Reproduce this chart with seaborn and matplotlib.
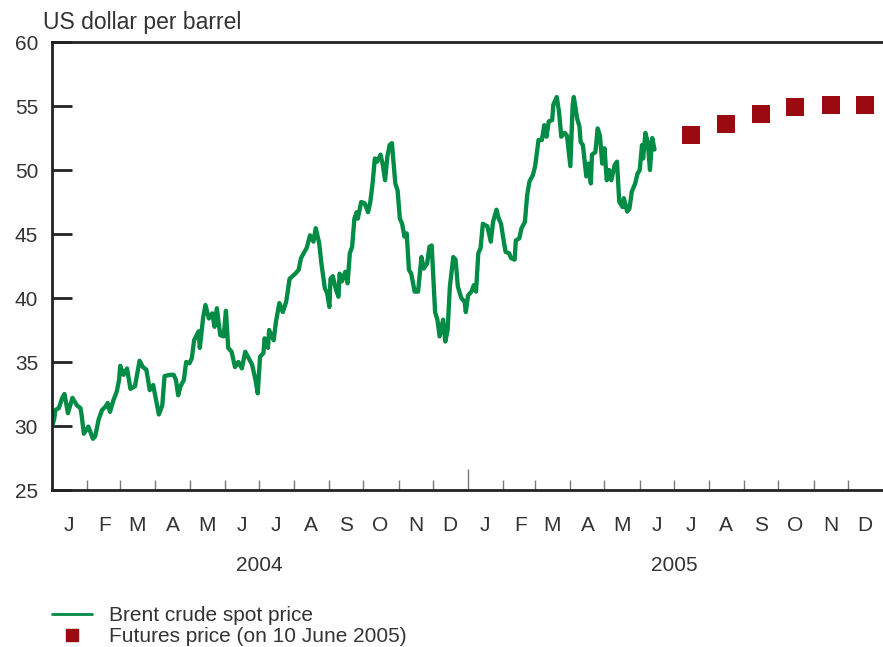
import numpy as np
import pandas as pd
import seaborn as sns
import matplotlib.pyplot as plt
import matplotlib.dates as mdates
from matplotlib.lines import Line2D

# Brent spot price: days since 1 Jan 2004 and US$ per barrel
spot_days = [0, 2, 3, 6, 9, 11, 14, 18, 22, 25, 26, 28, 32, 36, 38, 41, 44, 47, 49, 51,
             54, 57, 59, 60, 63, 66, 69, 73, 77, 80, 83, 86, 89, 94, 97, 99, 104, 107, 109, 111,
             113, 116, 118, 121, 123, 125, 129, 130, 133, 135, 138, 141, 143, 145, 148, 151, 153, 155, 158, 161,
             164, 167, 170, 173, 176, 179, 181, 183, 186, 187, 190, 191, 195, 197, 200, 203, 206, 209, 214, 217,
             219, 222, 224, 227, 230, 232, 235, 237, 240, 242, 244, 245, 247, 250, 252, 253, 255, 258, 260, 262,
             264, 266, 268, 269, 272, 275, 278, 280, 282, 284, 286, 289, 291, 293, 295, 297, 299, 302, 304, 306,
             308, 310, 312, 314, 316, 319, 322, 325, 327, 330, 332, 334, 337, 339, 341, 344, 346, 348, 350, 353,
             355, 357, 360, 363, 364, 366, 369, 371, 373, 375, 377, 379, 383, 386, 388, 391, 393, 395, 397, 399,
             402, 404, 407, 408, 411, 413, 416, 418, 420, 423, 425, 428, 431, 433, 435, 437, 440, 441, 444, 446,
             448, 451, 453, 456, 458, 459, 462, 464, 465, 467, 470, 472, 474, 475, 478, 480, 482, 484, 486, 488,
             490, 492, 495, 497, 499, 502, 503, 506, 508, 510, 513, 515, 517, 519, 520, 522, 524, 526, 528, 530]
spot_price = [29.9, 30.6, 31.25, 31.4, 32.2, 32.5, 31.0, 32.2, 31.6, 31.4, 30.9, 29.4, 29.95, 29.0, 29.2, 30.5, 31.25, 31.5, 31.8, 31.1,
              32.0, 32.7, 33.6, 34.7, 34.0, 34.5, 32.9, 33.1, 35.1, 34.6, 34.4, 32.8, 33.2, 30.9, 31.6, 33.9, 34.0, 34.0, 33.6, 32.4,
              33.1, 33.6, 35.0, 34.9, 35.3, 36.7, 37.4, 36.1, 38.5, 39.45, 38.4, 38.8, 37.75, 39.2, 37.1, 37.0, 39.0, 36.1, 35.8, 34.6,
              35.0, 34.5, 35.8, 35.3, 34.8, 33.6, 32.55, 35.4, 35.7, 36.85, 36.1, 37.5, 36.7, 38.15, 39.6, 38.9, 39.7, 41.5, 41.9, 42.2,
              43.1, 43.6, 43.9, 44.9, 44.4, 45.45, 44.3, 42.7, 40.75, 40.4, 39.3, 41.5, 41.7, 40.6, 40.1, 41.9, 41.3, 42.05, 41.15, 43.5,
              44.0, 46.2, 46.7, 46.2, 47.5, 47.4, 46.7, 47.5, 48.95, 50.9, 50.65, 51.2, 50.4, 49.2, 51.05, 51.95, 52.1, 48.95, 48.4, 46.2,
              45.8, 44.8, 45.05, 42.2, 41.9, 40.5, 40.5, 43.2, 42.3, 42.7, 44.0, 44.1, 38.9, 38.3, 37.0, 38.3, 36.6, 37.5, 40.9, 43.2,
              43.0, 40.9, 40.0, 39.7, 38.9, 40.2, 40.5, 41.0, 40.5, 43.5, 43.9, 45.8, 45.6, 44.4, 45.95, 46.9, 46.2, 45.8, 44.65, 43.6,
              43.5, 43.1, 43.0, 44.5, 44.65, 45.45, 45.95, 48.05, 49.1, 49.6, 50.3, 52.35, 52.35, 53.5, 52.6, 53.8, 53.9, 55.1, 55.7, 54.55,
              52.6, 52.9, 52.7, 50.3, 55.1, 55.7, 54.0, 53.4, 52.2, 51.95, 49.5, 50.5, 48.95, 51.2, 51.4, 53.25, 52.7, 50.5, 51.7, 49.2,
              50.0, 49.2, 50.4, 50.65, 47.5, 47.1, 47.8, 46.75, 47.0, 48.3, 48.95, 49.7, 50.0, 51.95, 50.9, 52.9, 52.2, 50.0, 52.5, 51.6]

# futures curve on 10 June 2005
futures_dates = ['2005-07-16', '2005-08-16', '2005-09-16', '2005-10-16', '2005-11-16', '2005-12-16']
futures_price = [52.7, 53.6, 54.4, 54.9, 55.1, 55.1]

month_labels = ['J', 'F', 'M', 'A', 'M', 'J', 'J', 'A', 'S', 'O', 'N', 'D'] * 2
year_labels = ['2004', '2005']

green = '#008C45'
red = '#9B0A10'
text_col = '#333333'
fsize = 15

sns.set_style('white')
plt.rcParams['font.family'] = ['Liberation Sans', 'DejaVu Sans']

spot = pd.DataFrame({
    'date': pd.Timestamp('2004-01-01') + pd.to_timedelta(spot_days, unit='D'),
    'price': spot_price,
})
futures = pd.DataFrame({'date': pd.to_datetime(futures_dates), 'price': futures_price})

fig, ax = plt.subplots(figsize=(8.83, 6.47), dpi=100)
fig.subplots_adjust(left=52 / 883, right=1.0, bottom=157 / 647, top=605 / 647)

sns.lineplot(data=spot, x='date', y='price', color=green, linewidth=3.1, ax=ax, legend=False)
sns.scatterplot(data=futures, x='date', y='price', color=red, marker='s', s=150,
                linewidth=0, ax=ax, legend=False)

ax.set_xlim(pd.Timestamp('2004-01-01'), pd.Timestamp('2006-01-01'))
ax.set_ylim(25, 60)
ax.set_yticks(np.arange(25, 61, 5))
ax.set(xlabel='', ylabel='')

for side in ['left', 'top', 'bottom']:
    ax.spines[side].set_color('#222222')
    ax.spines[side].set_linewidth(2)
ax.spines['right'].set_visible(False)

ax.tick_params(axis='y', left=True, direction='in', length=14.5, width=2, color='#222222',
               labelsize=fsize, labelcolor=text_col, pad=10)

# month boundaries as ticks, month letters centred in between
month_starts = pd.date_range('2004-01-01', '2006-01-01', freq='MS')
mid_months = month_starts[:-1] + pd.Timedelta(days=15)
ax.set_xticks(month_starts[1:-1])
ax.set_xticklabels([])
ax.set_xticks(mid_months, minor=True)
ax.set_xticklabels(month_labels, minor=True)
ax.tick_params(axis='x', which='major', bottom=True, direction='in', length=7.5, width=1,
               color='#777777')
ax.tick_params(axis='x', which='minor', bottom=True, length=0, labelsize=fsize,
               labelcolor=text_col, pad=18.5)
ax.xaxis.get_major_ticks()[11].tick1line.set_markersize(15)

for year, label in zip(['2004-07-01', '2005-07-01'], year_labels):
    ax.text(mdates.date2num(pd.Timestamp(year)), -0.168, label, transform=ax.get_xaxis_transform(),
            ha='center', va='center', fontsize=fsize, color=text_col)

fig.text(43 / 883, (647 - 28.5) / 647, 'US dollar per barrel', ha='left', va='baseline',
         fontsize=16.5, color=text_col)

handles = [Line2D([], [], color=green, linewidth=2),
           Line2D([], [], color=red, marker='s', markersize=8.5, linestyle='none')]
fig.legend(handles, ['Brent crude spot price', 'Futures price (on 10 June 2005)'],
           loc='lower left', bbox_to_anchor=(52 / 883, 1 / 647), frameon=False,
           fontsize=fsize, labelcolor=text_col, handlelength=1.9, handletextpad=0.85,
           labelspacing=0.1, borderpad=0, borderaxespad=0)

fig.savefig('out.png', dpi=100)
